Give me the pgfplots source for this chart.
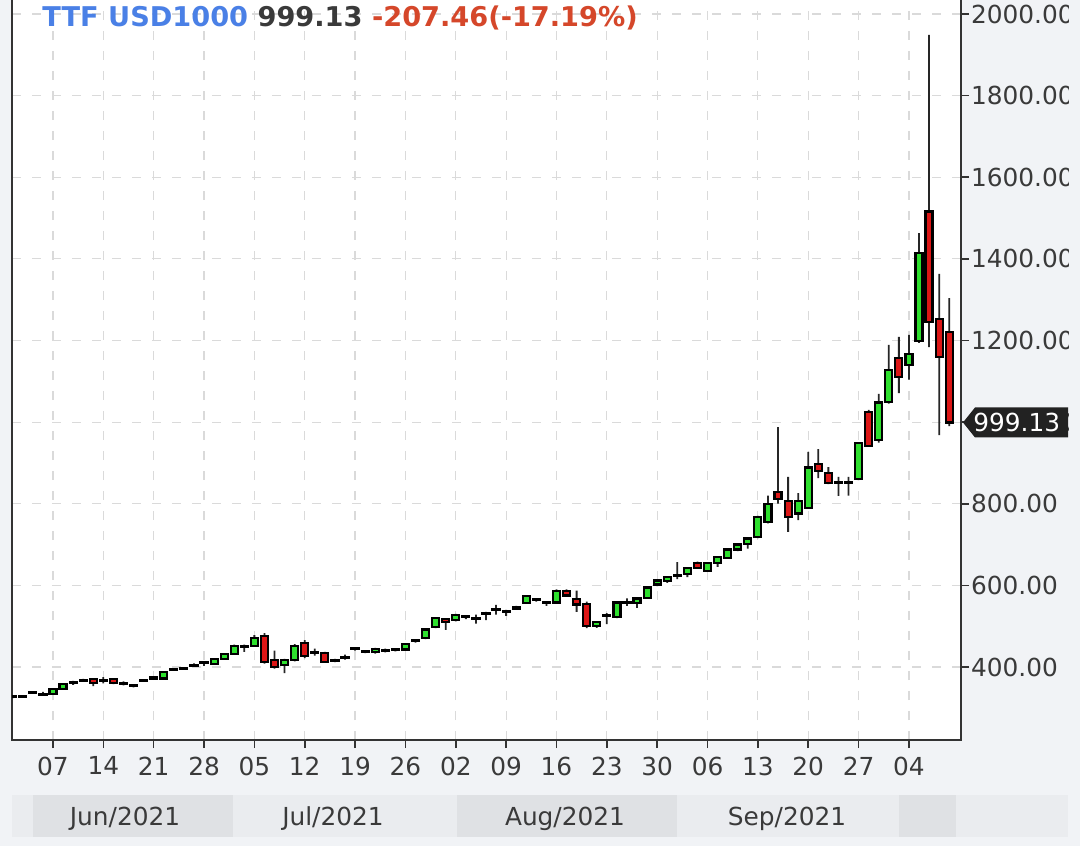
\documentclass[border=0pt]{standalone}
\usepackage{fontspec}
\setmainfont{DejaVu Sans}
\usepackage{pgfplots}
\usepackage{pgfplotstable}
\pgfplotsset{compat=1.18}

\definecolor{pagebg}{HTML}{F1F3F6}
\definecolor{striplight}{HTML}{EAECEF}
\definecolor{stripdark}{HTML}{DFE1E4}
\definecolor{candleup}{HTML}{2EE02E}
\definecolor{candledown}{HTML}{DC1616}
\definecolor{gridc}{HTML}{DADADA}
\definecolor{axisc}{HTML}{333333}
\definecolor{labelc}{HTML}{3A3A3A}
\definecolor{titleblue}{HTML}{4A80E6}
\definecolor{titlered}{HTML}{D5472A}
\definecolor{tagc}{HTML}{222222}

% trading-day index, open, high, low, close (USD per 1000 m3)
\pgfplotstableread{
i o h l c
0 326 329 324 328
1 327 330 325 329
2 337 341 334 339
3 334 339 329 332
4 334 348 332 346
5 346 360 344 358
6 360 366 356 362
7 368 371 365 366
8 370 372 353 360
9 367 375 360 369
10 370 372 358 360
11 360 365 355 358
12 353 357 350 355
13 367 370 365 369
14 372 375 370 374
15 372 390 370 388
16 393 397 391 395
17 396 399 393 398
18 403 409 400 405
19 410 414 403 412
20 408 422 406 420
21 420 434 418 432
22 432 455 430 452
23 452 455 437 448
24 452 478 450 472
25 476 483 408 412
26 417 440 396 400
27 405 420 385 418
28 417 456 414 452
29 458 466 422 426
30 437 445 428 435
31 434 437 410 412
32 416 420 412 418
33 422 430 418 424
34 444 448 440 446
35 439 441 434 437
36 436 447 433 444
37 439 445 436 441
38 442 445 438 444
39 443 458 440 456
40 463 466 460 465
41 471 495 468 492
42 498 522 495 520
43 518 520 491 510
44 515 530 512 527
45 524 527 517 522
46 517 528 506 519
47 530 535 515 532
48 539 552 528 541
49 537 540 525 535
50 543 550 540 546
51 557 576 555 574
52 566 568 560 564
53 558 561 550 556
54 558 590 556 586
55 586 590 572 575
56 567 587 535 553
57 555 560 495 500
58 500 512 496 510
59 526 532 505 528
60 522 560 520 558
61 558 568 550 560
62 557 570 545 568
63 569 597 567 595
64 602 614 598 612
65 610 622 606 620
66 622 657 615 624
67 628 644 620 642
68 655 658 641 643
69 636 656 634 654
70 655 671 645 670
71 668 690 665 688
72 688 702 684 700
73 701 717 690 715
74 719 770 716 768
75 755 820 752 800
76 828 988 800 812
77 807 866 731 768
78 776 826 760 806
79 790 927 788 889
80 897 934 863 880
81 875 890 848 851
82 854 866 819 852
83 852 866 820 854
84 861 950 858 949
85 1025 1030 940 942
86 956 1069 950 1048
87 1050 1189 1045 1127
88 1157 1209 1071 1110
89 1140 1214 1104 1167
90 1198 1463 1194 1414
91 1516 1949 1184 1246
92 1253 1363 968 1160
93 1220 1304 990 999.13
}\ohlc

\pgfplotsset{
  chartframe/.style={
    scale only axis, width=474.5pt, height=375pt,
    at={(6pt,53pt)}, anchor=south west,
    xmin=-0.07, xmax=94.17, ymin=221.1, ymax=2058.8,
  },
}

\begin{document}
\begin{tikzpicture}
\useasboundingbox (0,0) rectangle (540pt,423pt);
\fill[pagebg] (0,0) rectangle (540pt,423pt);
\begin{scope}
\clip (0,0) rectangle (534pt,423pt);
% month strip
\fill[striplight] (6pt,4.5pt) rectangle (534pt,25.5pt);
\fill[stripdark] (16.5pt,4.5pt) rectangle (116.5pt,25.5pt);
\fill[stripdark] (228.5pt,4.5pt) rectangle (338.5pt,25.5pt);
\fill[stripdark] (449.5pt,4.5pt) rectangle (478pt,25.5pt);
\begin{scope}[every node/.style={font=\fontsize{12.4}{14}\selectfont, text=labelc, inner sep=0pt}]
\node at (62.5pt,13.6pt) {Jun/2021};
\node at (166.5pt,13.6pt) {Jul/2021};
\node at (282.5pt,13.6pt) {Aug/2021};
\node at (393.5pt,13.6pt) {Sep/2021};
\end{scope}

% frame, grid and wicks (low to high)
\begin{axis}[chartframe,
  axis background/.style={fill=white},
  axis line style={axisc, line width=1pt},
  xtick={4,9,...,89},
  xticklabels={07,14,21,28,05,12,19,26,02,09,16,23,30,06,13,20,27,04},
  ytick={400,600,...,2000},
  tick align=outside, xtick pos=bottom, ytick pos=right,
  major tick length=4pt,
  tick style={axisc, line width=0.8pt},
  grid=major,
  major grid style={gridc, dash pattern=on 4.5pt off 5.5pt, line width=0.6pt},
  /pgf/number format/assume math mode=true,
  yticklabel style={anchor=west, xshift=-2.5pt, font=\fontsize{12.4}{14}\selectfont, text=labelc,
    /pgf/number format/fixed, /pgf/number format/fixed zerofill,
    /pgf/number format/precision=2, /pgf/number format/1000 sep={}},
  xticklabel style={font=\fontsize{12.4}{14}\selectfont, text=labelc, yshift=-0.8pt},
  ybar stacked, bar width=0.9pt,
]
\addplot[fill=none, draw=none] table[x=i, y=l] {\ohlc};
\addplot[fill=black!85, draw=none] table[x=i, y expr={\thisrow{h}-\thisrow{l}}] {\ohlc};
\end{axis}

% candle bodies (open to close)
\begin{axis}[chartframe, axis lines=none, ticks=none,
  ybar stacked, bar width=3.5pt, clip mode=individual]
\addplot[fill=none, draw=none] table[x=i, y expr={min(\thisrow{o},\thisrow{c})}] {\ohlc};
\addplot[fill=candleup, draw=black, line width=1.1pt] table[x=i, y expr={max(\thisrow{c}-\thisrow{o},0)}] {\ohlc};
\addplot[fill=candledown, draw=black, line width=1.1pt] table[x=i, y expr={max(\thisrow{o}-\thisrow{c},0)}] {\ohlc};
\coordinate (tagp) at (axis cs:94.17,999.13);
\end{axis}

% last price tag
\fill[tagc] ([xshift=1pt]tagp) -- ([xshift=7pt,yshift=7.5pt]tagp) -- ([xshift=60pt,yshift=7.5pt]tagp)
  -- ([xshift=60pt,yshift=-7.5pt]tagp) -- ([xshift=7pt,yshift=-7.5pt]tagp) -- cycle;
\node[anchor=west, inner sep=0pt, text=white, font=\fontsize{12.4}{14}\selectfont] at ([xshift=6pt]tagp) {999.13};

% header
\node[anchor=base west, inner sep=0pt, font=\fontsize{13.6}{15}\selectfont\bfseries]
  at (21pt,409.5pt) {\textcolor{titleblue}{TTF USD1000} \textcolor{labelc}{999.13} \textcolor{titlered}{-207.46(-17.19\%)}};
\end{scope}
\end{tikzpicture}
\end{document}
